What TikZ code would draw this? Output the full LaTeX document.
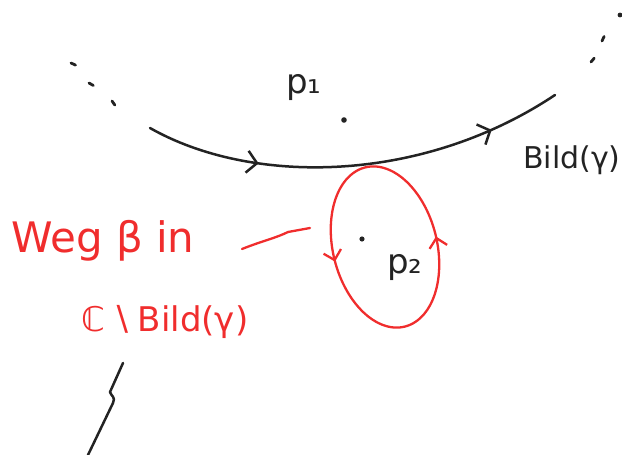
\documentclass[tikz,border=0pt]{standalone}
\usepackage{fontspec}
\setmainfont{DejaVu Sans}
\usetikzlibrary{arrows.meta,decorations.markings}
\definecolor{inkred}{RGB}{240,45,45}
\definecolor{inkblack}{RGB}{35,35,35}
\tikzset{
  pen/.style={line width=2.3pt, line cap=round, line join=round},
  redpen/.style={pen, draw=inkred},
  blackpen/.style={pen, draw=inkblack, line width=2.5pt}
}

\begin{document}
\begin{tikzpicture}[x=1pt, y=-1pt, pen]
            \useasboundingbox (0,0) rectangle (622,455);

            % Points and labels
            \fill[inkblack] (344,120) circle (2.8) coordinate (P1 dot);
            \fill[inkblack] (362,239) circle (2.6) coordinate (P2 dot);
            \node[anchor=base west, text=inkblack, font=\fontsize{34}{40}\selectfont, inner sep=0] (P1) at (285,93) {p₁};
            \node[anchor=base west, text=inkblack, font=\fontsize{34}{40}\selectfont, inner sep=0] (P2) at (386,273) {p₂};
            \node[anchor=base west, text=inkblack, font=\fontsize{30}{36}\selectfont, inner sep=0] (Bild) at (522,168) {Bild(γ)};
            \node[anchor=base west, text=inkred, font=\fontsize{42}{50}\selectfont, inner sep=0] (Weg) at (10,252) {Weg β in};
            \node[anchor=base west, text=inkred, font=\fontsize{34}{40}\selectfont, inner sep=0] (Complement) at (80,331) {ℂ\,∖\,Bild(γ)};

            % Curve with arrows
            \draw[blackpen, postaction={decorate}, decoration={markings,
                mark=at position 0.27 with {\arrow{Straight Barb[length=10pt,width=22pt]}},
                mark=at position 0.83 with {\arrow{Straight Barb[length=10pt,width=22pt]}}}]
              (150,128) .. controls (250,185) and (420,185) .. (555,95);

            % Dots at the ends
            \foreach \x/\y/\a in {71/63/25, 89/83/30, 112/101/55, 591/62/-50, 602/41/-65} {
              \draw[blackpen, line width=2.8pt] (\x,\y) -- ++(\a:5);
            }
            \fill[inkblack] (620,15) circle (2.4);

            % Loop around p2
            \draw[redpen, postaction={decorate}, decoration={markings,
                mark=at position 0.245 with {\arrow{Straight Barb[length=9pt,width=18pt]}},
                mark=at position 0.755 with {\arrow{Straight Barb[length=9pt,width=18pt]}}}]
              plot[smooth cycle, domain=95:-260, samples=72, variable=\t]
                ({385+50.5*cos(\t)+19.8*sin(\t)}, {247-12.6*cos(\t)+79.6*sin(\t)});

            % Hint towards the loop
            \coordinate (Hint tail) at (242,249);
            \coordinate (Hint head) at (310,228);
            \draw[redpen] (Hint tail) .. controls (262,241) and (276,238) .. (288,232) -- (Hint head);

            % Squiggle at the bottom
            \coordinate (Bolt top) at (123,363);
            \coordinate (Bolt end) at (88,455);
            \draw[blackpen] (Bolt top) -- (110,392) .. controls (111,396) and (116,397) .. (113,403) -- (Bolt end);
        \end{tikzpicture}
\end{document}
